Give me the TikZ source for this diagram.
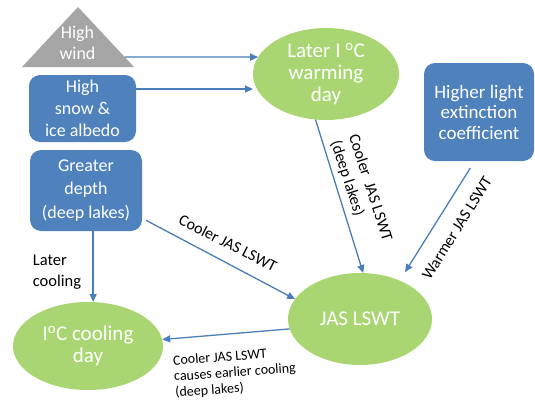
\documentclass[tikz,border=0pt]{standalone}
\usepackage{fontspec}
\setmainfont{Carlito}
\usetikzlibrary{shapes.geometric,arrows.meta}
\definecolor{boxblue}{HTML}{4F81BD}
\definecolor{ovalgreen}{HTML}{A9D673}
\definecolor{windgray}{HTML}{A5A5A5}
\definecolor{arrowblue}{HTML}{4A7EBB}
\tikzset{
  box/.style={fill=boxblue, rounded corners=11pt, text=white, align=center, inner sep=0pt, outer sep=0pt},
  oval/.style={ellipse, fill=ovalgreen, text=white, align=center, inner sep=0pt, outer sep=0pt, font=\fontsize{21}{22}\selectfont},
  arr/.style={draw=arrowblue, line width=1.3pt, -{Triangle[length=8pt,width=7pt]}},
  lbl/.style={font=\fontsize{16}{19}\selectfont, align=left, inner sep=0pt, text=black}
}
\begin{document}
\begin{tikzpicture}[x=1pt,y=-1pt]
\useasboundingbox (0,0) rectangle (535,399);
% triangle
\fill[windgray] (78,7) -- (134,67) -- (22,67) -- cycle;
\node[text=white, align=center, inner sep=0pt, font=\fontsize{18}{21}\selectfont] (wind) at (77.5,43) {High\\wind};
\coordinate (windout) at (124.7,57);
% boxes
\node[box, minimum width=107pt, minimum height=67pt, font=\fontsize{18}{22}\selectfont] (snow) at (82.5,108.5) {High\\snow \&\\ice albedo};
\node[box, minimum width=112pt, minimum height=81pt, font=\fontsize{18}{23.5}\selectfont] (depth) at (86,190.5) {Greater\\depth\\(deep lakes)};
\node[box, minimum width=110pt, minimum height=98pt, font=\fontsize{19}{20.5}\selectfont] (light) at (479,112) {Higher light\\extinction\\coefficient};
% ellipses
\node[oval, minimum width=146pt, minimum height=92pt] (warm) at (326,74) {Later I \textsuperscript{o}C\\warming\\day};
\node[oval, minimum width=144pt, minimum height=92pt] (jas) at (360,319) {JAS LSWT};
\node[oval, minimum width=150pt, minimum height=88pt] (cool) at (88,346) {I\textsuperscript{o}C cooling\\day};
% arrows
\draw[arr] (windout) -- (warm.166);
\draw[arr] (snow.20.5) -- (warm.west |- snow.20.5);
\draw[arr] (depth.-80.2) -- (depth.-80.2 |- cool.north);
\draw[arr] ([xshift=4pt]depth.-28.6) -- (jas.163);
\draw[arr] (warm.-103) -- (jas.86);
\draw[arr, shorten <=8.3pt, shorten >=10pt] (light.-95.2) -- (jas.44);
\draw[arr] (jas.188) -- (cool.5);
% labels
\node[lbl, font=\fontsize{16.5}{21}\selectfont] (lcool) at (57,272) {Later\\cooling};
\node[lbl, rotate=-27] (ldepth) at (228,243) {Cooler JAS LSWT};
\node[lbl, rotate=-72] (lwarm) at (361,191) {Cooler\ \ JAS LSWT\\(deep lakes)};
\node[lbl, rotate=58] (llight) at (457,228) {Warmer JAS LSWT};
\node[lbl, rotate=4, font=\fontsize{14}{16}\selectfont] (lbot) at (235,373) {Cooler JAS LSWT\\causes earlier cooling\\(deep lakes)};
\end{tikzpicture}
\end{document}
